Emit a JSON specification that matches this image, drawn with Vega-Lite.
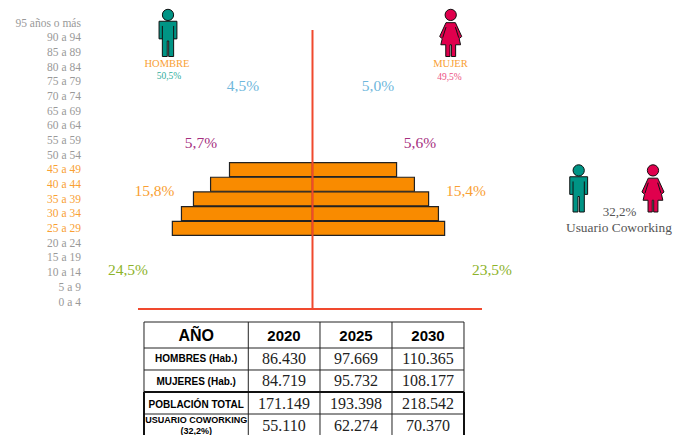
{"$schema":"https://vega.github.io/schema/vega-lite/v6.json","width":675,"height":435,"padding":0,"autosize":{"type":"none"},"background":"white","config":{"view":{"stroke":null}},
"datasets":{
"edades":[{"t":"0 a 4","x":-6.361,"y":0},{"t":"5 a 9","x":-6.361,"y":1},{"t":"10 a 14","x":-6.361,"y":2},{"t":"15 a 19","x":-6.361,"y":3},{"t":"20 a 24","x":-6.361,"y":4},{"t":"25 a 29","x":-6.361,"y":5},{"t":"30 a 34","x":-6.361,"y":6},{"t":"35 a 39","x":-6.361,"y":7},{"t":"40 a 44","x":-6.361,"y":8},{"t":"45 a 49","x":-6.361,"y":9},{"t":"50 a 54","x":-6.361,"y":10},{"t":"55 a 59","x":-6.361,"y":11},{"t":"60 a 64","x":-6.361,"y":12},{"t":"65 a 69","x":-6.361,"y":13},{"t":"70 a 74","x":-6.361,"y":14},{"t":"75 a 79","x":-6.361,"y":15},{"t":"80 a 84","x":-6.361,"y":16},{"t":"85 a 89","x":-6.361,"y":17},{"t":"90 a 94","x":-6.361,"y":18},{"t":"95 años o más","x":-6.361,"y":19}],
"barras":[{"edad":"25 a 29","sexo":"Hombre","x":-3.85,"y":5},{"edad":"30 a 34","sexo":"Hombre","x":-3.6,"y":6},{"edad":"35 a 39","sexo":"Hombre","x":-3.27,"y":7},{"edad":"40 a 44","sexo":"Hombre","x":-2.8,"y":8},{"edad":"45 a 49","sexo":"Hombre","x":-2.28,"y":9},{"edad":"25 a 29","sexo":"Mujer","x":3.63,"y":5},{"edad":"30 a 34","sexo":"Mujer","x":3.46,"y":6},{"edad":"35 a 39","sexo":"Mujer","x":3.19,"y":7},{"edad":"40 a 44","sexo":"Mujer","x":2.8,"y":8},{"edad":"45 a 49","sexo":"Mujer","x":2.31,"y":9}],
"porcentajes":[{"t":"4,5%","g":"65+","x":-1.909,"y":14.646},{"t":"5,0%","g":"65+","x":1.799,"y":14.646},{"t":"5,7%","g":"50-64","x":-3.063,"y":10.763},{"t":"5,6%","g":"50-64","x":2.953,"y":10.763},{"t":"15,8%","g":"25-49","x":-4.341,"y":7.493},{"t":"15,4%","g":"25-49","x":4.217,"y":7.493},{"t":"24,5%","g":"0-24","x":-5.069,"y":2.112},{"t":"23,5%","g":"0-24","x":4.931,"y":2.112}],
"ejes":[{"x":0,"x2":0,"y":18.46,"y2":-0.545},{"x":-4.794,"x2":4.657,"y":-0.545,"y2":-0.545}],
"rejilla":[{"x":-4.629,"x2":4.162,"y":-1.431,"y2":-1.431},{"x":-4.629,"x2":4.162,"y":-3.202,"y2":-3.202},{"x":-4.629,"x2":4.162,"y":-4.7,"y2":-4.7},{"x":-4.629,"x2":4.162,"y":-7.698,"y2":-7.698},{"x":-4.629,"x2":-4.629,"y":-1.431,"y2":-6.199},{"x":-1.764,"x2":-1.764,"y":-1.431,"y2":-9.128},{"x":0.206,"x2":0.206,"y":-1.431,"y2":-9.128},{"x":2.184,"x2":2.184,"y":-1.431,"y2":-9.128},{"x":4.162,"x2":4.162,"y":-1.431,"y2":-6.199}],
"marco":[{"x":-4.629,"x2":4.162,"y":-6.199,"y2":-6.199},{"x":-4.629,"x2":-4.629,"y":-6.199,"y2":-9.128},{"x":4.162,"x2":4.162,"y":-6.199,"y2":-9.128}],
"valores":[{"t":"86.430","x":-0.783,"y":-3.951},{"t":"97.669","x":1.195,"y":-3.951},{"t":"110.365","x":3.173,"y":-3.951},{"t":"84.719","x":-0.783,"y":-5.45},{"t":"95.732","x":1.195,"y":-5.45},{"t":"108.177","x":3.173,"y":-5.45},{"t":"171.149","x":-0.783,"y":-7.016},{"t":"193.398","x":1.195,"y":-7.016},{"t":"218.542","x":3.173,"y":-7.016},{"t":"55.110","x":-0.783,"y":-8.515},{"t":"62.274","x":1.195,"y":-8.515},{"t":"70.370","x":3.173,"y":-8.515}],
"anios":[{"t":"2020","x":-0.783,"y":-2.316},{"t":"2025","x":1.195,"y":-2.316},{"t":"2030","x":3.173,"y":-2.316}],
"filas":[{"t":"HOMBRES (Hab.)","x":-3.195,"y":-3.9},{"t":"MUJERES (Hab.)","x":-3.195,"y":-5.45},{"t":"POBLACIÓN TOTAL","x":-3.195,"y":-7.016}],
"filas2":[{"t":"USUARIO COWORKING","x":-3.195,"y":-8.14},{"t":"(32,2%)","x":-3.195,"y":-8.85}]
},
"encoding":{"x":{"field":"x","type":"quantitative","axis":null,"scale":{"domain":[-8.585,9.959],"nice":false,"zero":false,"padding":0}},"y":{"field":"y","type":"quantitative","axis":null,"scale":{"domain":[-9.128,20.504],"nice":false,"zero":false,"padding":0}}},
"layer":[
{"data":{"name":"edades"},"mark":{"type":"text","align":"right","baseline":"middle","font":"Liberation Serif","fontSize":11.5,"dy":1.5},"encoding":{"text":{"field":"t"},"color":{"condition":{"test":"datum.y>=5&&datum.y<=9","value":"#f9a033"},"value":"#999999"}}},
{"data":{"name":"barras"},"mark":{"type":"bar","size":14,"color":"#f98b00","stroke":"#222222","strokeWidth":1.2,"orient":"horizontal","yOffset":0.7},"encoding":{"x2":{"datum":0}}},
{"data":{"name":"ejes"},"mark":{"type":"rule","color":"#f0492e","strokeWidth":2},"encoding":{"x2":{"field":"x2"},"y2":{"field":"y2"}}},
{"data":{"name":"porcentajes"},"mark":{"type":"text","align":"center","baseline":"middle","font":"Liberation Serif","fontSize":15.5},"encoding":{"text":{"field":"t"},"color":{"field":"g","type":"nominal","legend":null,"scale":{"domain":["65+","50-64","25-49","0-24"],"range":["#6fb7dc","#a6307f","#f9a033","#8db32a"]}}}},
{"data":{"values":[{"t":"HOMBRE","x":-3.997,"y":16.18},{"t":"MUJER","x":3.791,"y":16.18}]},"mark":{"type":"text","align":"center","baseline":"middle","font":"Liberation Serif","fontSize":10.5,"color":"#f9a033","dy":1},"encoding":{"text":{"field":"t"}}},
{"data":{"values":[{"t":"50,5%","x":-3.942,"y":15.4}]},"mark":{"type":"text","align":"center","baseline":"middle","font":"Liberation Serif","fontSize":9.5,"color":"#2fae9c","dy":1},"encoding":{"text":{"field":"t"}}},
{"data":{"values":[{"t":"49,5%","x":3.764,"y":15.36}]},"mark":{"type":"text","align":"center","baseline":"middle","font":"Liberation Serif","fontSize":9.5,"color":"#ec4f82","dy":1},"encoding":{"text":{"field":"t"}}},
{"data":{"values":[{"x":-3.97,"y":18.256},{"x":7.313,"y":7.663}]},"mark":{"type":"point","filled":true,"opacity":1,"size":2209,"color":"#009485","stroke":"#111111","strokeWidth":1,"shape":"M-0.24,-0.77 A0.24,0.24 0 1,1 0.24,-0.77 A0.24,0.24 0 1,1 -0.24,-0.77 Z M-0.38,-0.5 L0.38,-0.5 L0.38,0.25 L0.24,0.25 L0.24,1 L0.03,1 L0.03,0.34 L-0.03,0.34 L-0.03,1 L-0.24,1 L-0.24,0.25 L-0.38,0.25 Z M-0.24,-0.3 L-0.24,0.25 M0.24,-0.3 L0.24,0.25"}},
{"data":{"values":[{"x":3.797,"y":18.256},{"x":9.354,"y":7.663}]},"mark":{"type":"point","filled":true,"opacity":1,"size":2209,"color":"#e0004d","stroke":"#111111","strokeWidth":1,"shape":"M-0.24,-0.77 A0.24,0.24 0 1,1 0.24,-0.77 A0.24,0.24 0 1,1 -0.24,-0.77 Z M-0.2,-0.44 L0.2,-0.44 L0.47,0.15 L0.36,0.24 L0.42,0.5 L0.21,0.5 L0.21,1 L0.03,1 L0.03,0.5 L-0.03,0.5 L-0.03,1 L-0.21,1 L-0.21,0.5 L-0.42,0.5 L-0.36,0.24 L-0.47,0.15 Z M-0.2,-0.25 L-0.34,0.2 M0.2,-0.25 L0.34,0.2"}},
{"data":{"values":[{"t":"32,2%","x":8.434,"y":6.063}]},"mark":{"type":"text","align":"center","baseline":"middle","font":"Liberation Serif","fontSize":13,"color":"#555555"},"encoding":{"text":{"field":"t"}}},
{"data":{"values":[{"t":"Usuario Coworking","x":6.964,"y":4.973}]},"mark":{"type":"text","align":"left","baseline":"middle","font":"Liberation Serif","fontSize":13.4,"color":"#555555"},"encoding":{"text":{"field":"t"}}},
{"data":{"name":"rejilla"},"mark":{"type":"rule","color":"#222222","strokeWidth":1},"encoding":{"x2":{"field":"x2"},"y2":{"field":"y2"}}},
{"data":{"name":"marco"},"mark":{"type":"rule","color":"#111111","strokeWidth":2},"encoding":{"x2":{"field":"x2"},"y2":{"field":"y2"}}},
{"data":{"values":[{"t":"AÑO","x":-3.195,"y":-2.25}]},"mark":{"type":"text","align":"center","baseline":"middle","font":"Liberation Sans","fontWeight":"bold","fontSize":16,"color":"#000000","dy":1.5},"encoding":{"text":{"field":"t"}}},
{"data":{"name":"anios"},"mark":{"type":"text","align":"center","baseline":"middle","font":"Liberation Sans","fontWeight":"bold","fontSize":15,"color":"#000000","dy":1},"encoding":{"text":{"field":"t"}}},
{"data":{"name":"filas"},"mark":{"type":"text","align":"center","baseline":"middle","font":"Liberation Sans","fontWeight":"bold","fontSize":10,"color":"#000000","dy":1},"encoding":{"text":{"field":"t"}}},
{"data":{"name":"filas2"},"mark":{"type":"text","align":"center","baseline":"middle","font":"Liberation Sans","fontWeight":"bold","fontSize":9,"color":"#000000"},"encoding":{"text":{"field":"t"}}},
{"data":{"name":"valores"},"mark":{"type":"text","align":"center","baseline":"middle","font":"Liberation Serif","fontSize":16,"color":"#222222"},"encoding":{"text":{"field":"t"}}}
]}
